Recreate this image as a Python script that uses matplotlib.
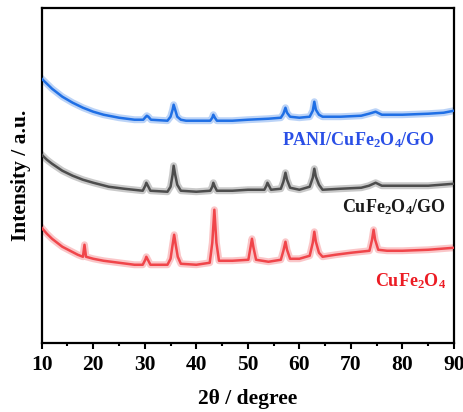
import matplotlib
matplotlib.use("Agg")
import matplotlib.pyplot as plt

# ── Style ────────────────────────────────────────────────────
plt.rcParams.update({
    "font.family": "serif",
    "font.serif": ["Liberation Serif", "DejaVu Serif"],
    "font.weight": "bold",
    "axes.labelweight": "bold",
    "mathtext.fontset": "custom",
    "mathtext.rm": "Liberation Serif:bold",
    "mathtext.it": "Liberation Serif:bold",
    "mathtext.bf": "Liberation Serif:bold",
})

COLOR_PANI = "#1f6fe5"
COLOR_GO = "#4d4d4d"
COLOR_CF = "#f0454a"

# ── XRD patterns (2θ in degrees, intensity in a.u., stacked) ─
tt_pani = [10, 11, 12, 13, 14, 16, 18, 20, 22, 25, 28, 29.7, 30.2, 30.4,
           30.7, 31.2, 34.4, 35.0, 35.4, 35.6, 35.9, 36.3, 37.0, 38, 42.7,
           43.1, 43.3, 43.6, 44.0, 47, 50, 54, 56.4, 56.9, 57.3, 57.6, 58.2,
           60, 62.0, 62.6, 62.9, 63.2, 63.8, 64.5, 68, 72, 73.5, 74.8, 76,
           80, 85, 88, 90]
int_pani = [264, 259, 254, 250, 246, 240, 235, 231, 228, 225, 223, 223, 226,
            227, 226, 223, 222, 226, 233, 238, 233, 226, 223, 222, 222, 225,
            228, 225, 222, 222, 223, 224, 225, 229, 235, 230, 226, 225, 226,
            232, 241, 233, 228, 226, 226, 227, 229, 231, 228, 228, 229, 230,
            232]

tt_go = [10, 11, 12, 14, 16, 18, 20, 23, 26, 29.6, 30.1, 30.3, 30.6, 31.1,
         34.4, 35.0, 35.4, 35.6, 35.9, 36.3, 37.0, 40, 42.7, 43.1, 43.3,
         43.6, 44.0, 47, 50, 53.2, 53.6, 53.8, 54.1, 54.5, 56.4, 56.9, 57.3,
         57.6, 58.2, 60, 62.0, 62.6, 62.9, 63.2, 63.8, 64.5, 68, 72, 73.5,
         74.8, 76, 80, 85, 90]
int_go = [188, 183, 179, 172, 167, 163, 160, 156, 154, 152, 157, 160, 157,
          152, 151, 156, 168, 177, 168, 158, 152, 151, 152, 156, 160, 156,
          152, 152, 153, 153, 157, 160, 157, 153, 154, 161, 170, 163, 155,
          153, 156, 165, 174, 166, 158, 153, 154, 155, 157, 160, 157, 157,
          157, 159]

tt_cf = [10, 11, 12, 13, 14, 15.5, 17, 18.0, 18.3, 18.6, 20, 22, 25, 28,
         29.6, 30.1, 30.3, 30.6, 31.1, 34.4, 35.0, 35.4, 35.7, 36.0, 36.4,
         37.0, 40, 42.6, 43.1, 43.5, 43.9, 44.4, 47, 50.1, 50.5, 50.8, 51.1,
         51.6, 54, 56.4, 56.9, 57.3, 57.6, 58.2, 60, 62.0, 62.6, 62.9, 63.2,
         63.8, 64.5, 67, 70, 73.6, 74.1, 74.4, 74.7, 75.3, 77, 80, 85, 90]
int_cf = [115, 109, 104, 100, 96, 92, 88, 86, 98, 86, 84, 82, 80, 78, 78,
          83, 86, 83, 78, 78, 84, 98, 108, 98, 86, 79, 78, 80, 100, 133,
          100, 82, 82, 83, 95, 104, 95, 83, 81, 83, 92, 101, 93, 84, 84,
          87, 100, 111, 101, 90, 86, 88, 90, 92, 103, 113, 103, 93, 92, 92,
          93, 95]

sample_labels = ["PANI/CuFe$_2$O$_4$/GO", "CuFe$_2$O$_4$/GO", "CuFe$_2$O$_4$"]
x_ticks = [10, 20, 30, 40, 50, 60, 70, 80, 90]

fig = plt.figure(figsize=(4.64, 4.12), dpi=100)
ax = fig.add_axes([0.0899, 0.168, 0.8885, 0.8126])

series = [
    (tt_pani, int_pani, COLOR_PANI),
    (tt_go, int_go, COLOR_GO),
    (tt_cf, int_cf, COLOR_CF),
]
for tt, inten, col in series:
    # soft halo stands in for the counting noise of the scan
    ax.plot(tt, inten, color=col, linewidth=5.0, alpha=0.3,
            solid_joinstyle="round", zorder=2)
    ax.plot(tt, inten, color=col, linewidth=1.8, zorder=3,
            solid_joinstyle="round")

# Sample labels
ax.text(71.5, 203, sample_labels[0], color="#2a4fe6", fontsize=13,
        fontweight="bold", ha="center", va="center")
ax.text(78.3, 136, sample_labels[1], color="#1a1a1a", fontsize=13,
        fontweight="bold", ha="center", va="center")
ax.text(81.5, 62, sample_labels[2], color="#ec1c24", fontsize=13,
        fontweight="bold", ha="center", va="center")

ax.set_xlim(10, 90)
ax.set_ylim(0, 334.7)
ax.set_xticks(x_ticks)
ax.set_xticklabels([str(t) for t in x_ticks], fontweight="bold")
ax.set_xticks(range(15, 90, 10), minor=True)
ax.set_yticks([])
ax.tick_params(axis="x", which="major", direction="out", length=4,
               width=1.5, labelsize=15.5, pad=5)
ax.tick_params(axis="x", which="minor", direction="out", length=2.5,
               width=1.5)
for sp in ax.spines.values():
    sp.set_linewidth(1.6)

ax.set_xlabel("2θ / degree", fontsize=15.5, fontweight="bold", labelpad=10)
ax.set_ylabel("Intensity / a.u.", fontsize=15.5, fontweight="bold",
              labelpad=8)

fig.savefig("out.png", dpi=100, facecolor="white")
